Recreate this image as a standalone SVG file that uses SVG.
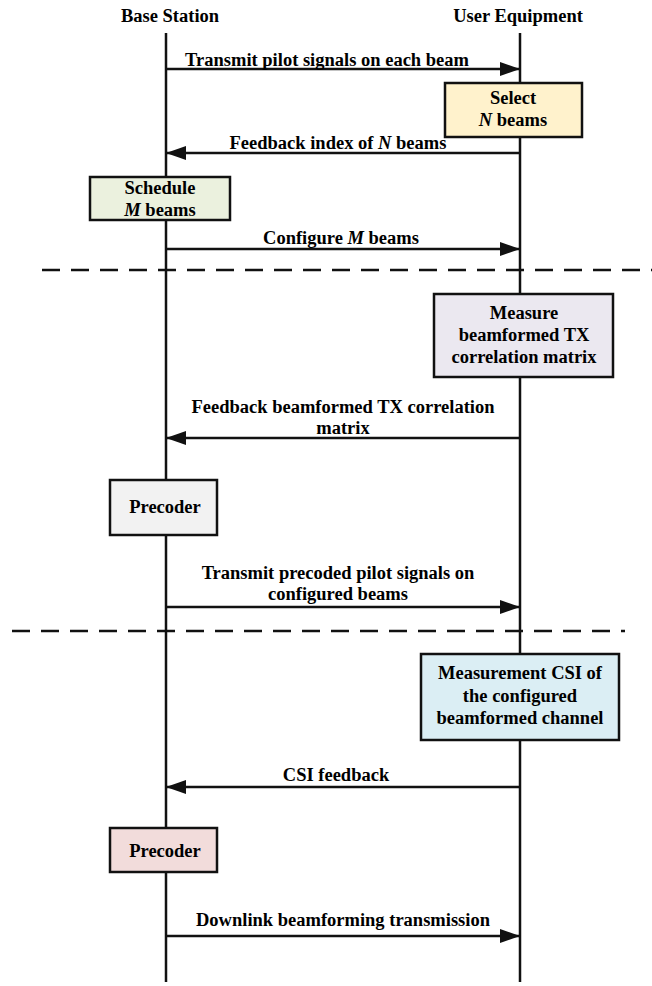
<svg xmlns="http://www.w3.org/2000/svg" width="652" height="986" viewBox="0 0 652 986">
  <style>
    text { font-family: "Liberation Serif", "Times New Roman", serif; font-weight: bold; font-size: 18.5px; fill: #000; }
    .c { text-anchor: middle; }
    .life { stroke: #111; stroke-width: 2.5; fill: none; }
    .msg { stroke: #111; stroke-width: 2.5; fill: none; }
    .sep { stroke: #111; stroke-width: 2.5; stroke-dasharray: 18 11; fill: none; }
    .box { stroke: #111; stroke-width: 2.5; }
  </style>
  <defs>
    <marker id="arrow" viewBox="0 0 20 14" refX="20" refY="7" markerWidth="20" markerHeight="14" markerUnits="userSpaceOnUse" orient="auto">
      <path d="M0,0 L20,7 L0,14 Z" fill="#111"/>
    </marker>
  </defs>

  <rect width="652" height="986" fill="#fff"/>

  <!-- participants -->
  <g id="base-station">
    <text class="c" x="170" y="22">Base Station</text>
    <line class="life" x1="166" y1="33" x2="166" y2="982"/>
  </g>
  <g id="user-equipment">
    <text class="c" x="518" y="22">User Equipment</text>
    <line class="life" x1="520" y1="33" x2="520" y2="982"/>
  </g>

  <!-- phase separators -->
  <g id="separators">
    <line class="sep" x1="42" y1="270" x2="652" y2="270"/>
    <line class="sep" x1="12" y1="631" x2="625" y2="631"/>
  </g>

  <!-- messages -->
  <g id="connectors">
    <line class="msg" x1="166" y1="69" x2="520" y2="69" marker-end="url(#arrow)"/>
    <text class="c" x="327" y="66">Transmit pilot signals on each beam</text>

    <line class="msg" x1="520" y1="153" x2="166" y2="153" marker-end="url(#arrow)"/>
    <text class="c" x="338" y="149">Feedback index of <tspan font-style="italic">N</tspan> beams</text>

    <line class="msg" x1="166" y1="249" x2="520" y2="249" marker-end="url(#arrow)"/>
    <text class="c" x="341" y="244">Configure <tspan font-style="italic">M</tspan> beams</text>

    <line class="msg" x1="520" y1="438" x2="166" y2="438" marker-end="url(#arrow)"/>
    <text class="c" x="343" y="413">Feedback beamformed TX correlation</text>
    <text class="c" x="343" y="434">matrix</text>

    <line class="msg" x1="166" y1="607" x2="520" y2="607" marker-end="url(#arrow)"/>
    <text class="c" x="338" y="579">Transmit precoded pilot signals on</text>
    <text class="c" x="338" y="600">configured beams</text>

    <line class="msg" x1="520" y1="787" x2="166" y2="787" marker-end="url(#arrow)"/>
    <text class="c" x="336" y="781">CSI feedback</text>

    <line class="msg" x1="166" y1="936" x2="520" y2="936" marker-end="url(#arrow)"/>
    <text class="c" x="343" y="926">Downlink beamforming transmission</text>
  </g>

  <!-- activity boxes -->
  <g id="select-beams">
    <rect class="box" x="445" y="83" width="137" height="54" fill="#fff2cc"/>
    <text class="c" x="513" y="104">Select</text>
    <text class="c" x="513" y="126"><tspan font-style="italic">N</tspan> beams</text>
  </g>
  <g id="schedule-beams">
    <rect class="box" x="90" y="177" width="140" height="43" fill="#ebf1de"/>
    <text class="c" x="160" y="194">Schedule</text>
    <text class="c" x="160" y="216"><tspan font-style="italic">M</tspan> beams</text>
  </g>
  <g id="measure-correlation">
    <rect class="box" x="434" y="294" width="179" height="83" fill="#ebe8f0"/>
    <text class="c" x="524" y="319">Measure</text>
    <text class="c" x="524" y="341">beamformed TX</text>
    <text class="c" x="524" y="363">correlation matrix</text>
  </g>
  <g id="precoder-1">
    <rect class="box" x="110" y="480" width="107" height="55" fill="#f2f2f2"/>
    <text class="c" x="165" y="513">Precoder</text>
  </g>
  <g id="measure-csi">
    <rect class="box" x="421" y="654" width="198" height="86" fill="#dbeef4"/>
    <text class="c" x="520" y="679">Measurement CSI of</text>
    <text class="c" x="520" y="702">the configured</text>
    <text class="c" x="520" y="724">beamformed channel</text>
  </g>
  <g id="precoder-2">
    <rect class="box" x="110" y="828" width="107" height="44" fill="#f2dcdb"/>
    <text class="c" x="165" y="857">Precoder</text>
  </g>
</svg>
